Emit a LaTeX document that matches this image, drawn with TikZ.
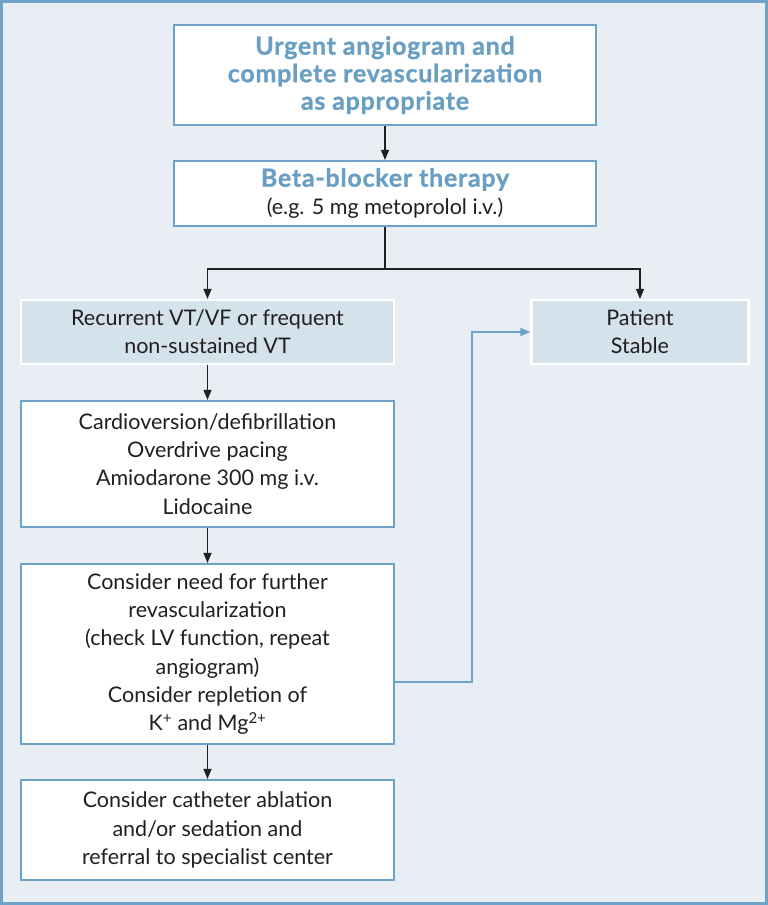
\documentclass[tikz,border=0pt]{standalone}
\usepackage{fontspec}
\setmainfont{Lato}
\newfontfamily\heavyfont[FakeBold=1, LetterSpace=3]{Lato Bold}
\usetikzlibrary{arrows.meta}
\definecolor{frameblue}{HTML}{6DA3C8}
\definecolor{titleblue}{HTML}{6A9FC3}
\definecolor{paleback}{HTML}{E9EEF5}
\definecolor{greyfill}{HTML}{D4E2EB}
\definecolor{inkblack}{HTML}{231F20}
\newcommand{\titlefont}{\heavyfont\fontsize{25}{27.5}\selectfont}
\tikzset{
  whitebox/.style={draw=frameblue, line width=2.2pt, fill=white, align=center,
    text=inkblack, font=\fontsize{21.5}{28.3}\selectfont, inner sep=0pt},
  greybox/.style={whitebox, fill=greyfill, draw=white},
  titlebox/.style={whitebox, text=titleblue, font=\titlefont},
  flow/.style={draw=inkblack, line width=1.2pt, -{Triangle[length=10pt,width=8pt]}},
  backflow/.style={draw=frameblue, line width=1.2pt, -{Triangle[length=10pt,width=8pt]}}
}

\begin{document}
\begin{tikzpicture}[x=1pt, y=-1pt]
%\draw[help lines] (0,0) grid (768,905);
\draw[fill=paleback, draw=frameblue, line width=3pt] (1.5,1.5) rectangle (766.5,903.5);%frame
\useasboundingbox (0,0) rectangle (768,905);

\node[titlebox, minimum width=422, minimum height=100] (angio) at (385,75)
  {Urgent angiogram and\\complete revascularization\\as appropriate};
\node[whitebox, minimum width=422, minimum height=65] (beta) at (385,193.5)
  {{\color{titleblue}\titlefont Beta-blocker therapy}\\(e.g. 5 mg metoprolol i.v.)};

\node[greybox, minimum width=373, minimum height=64] (recur) at (207.5,332)
  {Recurrent VT/VF or frequent\\non-sustained VT};
\node[greybox, minimum width=217, minimum height=64] (stable) at (640,332)
  {Patient\\Stable};

\node[whitebox, minimum width=373, minimum height=126] (cardio) at (207.5,464)
  {Cardioversion/defibrillation\\Overdrive pacing\\Amiodarone 300 mg i.v.\\Lidocaine};
\node[whitebox, minimum width=373, minimum height=180] (revasc) at (207.5,654)
  {Consider need for further\\revascularization\\(check LV function, repeat\\angiogram)\\Consider repletion of\\K\textsuperscript{+} and Mg\textsuperscript{2+}};
\node[whitebox, minimum width=373, minimum height=100] (ablate) at (207.5,830)
  {Consider catheter ablation\\and/or sedation and\\referral to specialist center};

\draw[flow] (angio) -- (beta);
\coordinate (split) at (385,269);
\draw[line width=1.2pt, draw=inkblack] (beta) -- (split);
\draw[flow] (split) -| (recur.north);%left branch
\draw[flow] (split) -| (stable.north);%right branch
\draw[flow] (recur) -- (cardio);
\draw[flow] (cardio) -- (revasc);
\draw[flow] (revasc) -- (ablate);

\coordinate (back) at (472,682);
\draw[backflow] (revasc.east |- back) -- (back) |- (stable.west);%back to stable
\end{tikzpicture}
\end{document}
